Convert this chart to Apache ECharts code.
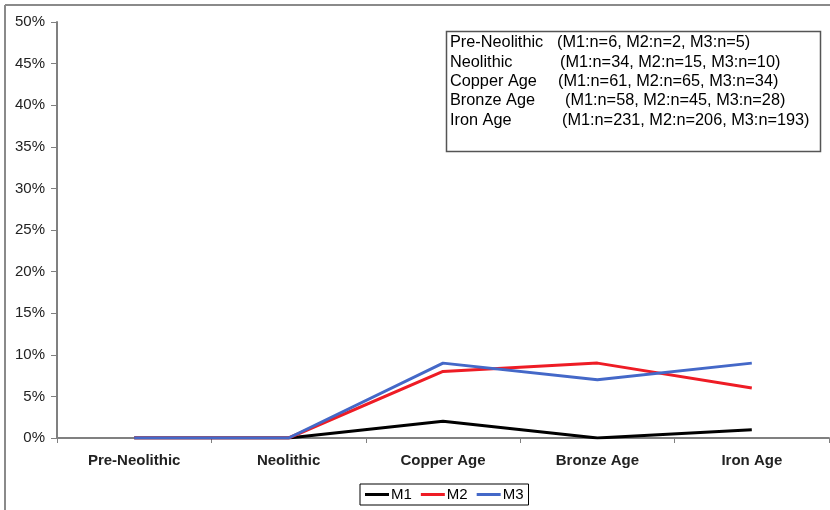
<!DOCTYPE html>
<html>
<head>
<meta charset="utf-8">
<script src="https://cdn.jsdelivr.net/npm/echarts@6/dist/echarts.min.js"></script>
<style>html,body{margin:0;padding:0;background:#fff}#c{width:830px;height:510px}</style>
</head>
<body>
<div id="c"></div>
<script>
var categories = ['Pre-Neolithic', 'Neolithic', 'Copper Age', 'Bronze Age', 'Iron Age'];
var m1 = [0, 0, 2, 0, 1];
var m2 = [0, 0, 8, 9, 6];
var m3 = [0, 0, 9, 7, 9];
var nM1 = [6, 34, 61, 58, 231];
var nM2 = [2, 15, 65, 45, 206];
var nM3 = [5, 10, 34, 28, 193];

var font = 'Liberation Sans, Arial, sans-serif';
var chart = echarts.init(document.getElementById('c'));

var noteX2 = [557, 560, 558, 565, 562];
var graphics = [
  {type:'line', shape:{x1:5,y1:5,x2:830,y2:5}, style:{stroke:'#8a8a8a', lineWidth:2}},
  {type:'line', shape:{x1:5,y1:5,x2:5,y2:510}, style:{stroke:'#8a8a8a', lineWidth:2}},
  {type:'rect', shape:{x:446.5,y:31.5,width:374,height:120}, style:{fill:'#fff', stroke:'#555', lineWidth:1.5}}
];
categories.forEach(function(c, i){
  graphics.push({type:'text', left:450, top:35 + i*19.3, style:{text:c, font:'16.3px ' + font, fill:'#000'}});
  graphics.push({type:'text', left:noteX2[i], top:35 + i*19.3, style:{text:'(M1:n=' + nM1[i] + ', M2:n=' + nM2[i] + ', M3:n=' + nM3[i] + ')', font:'16.3px ' + font, fill:'#000'}});
});

chart.setOption({
  animation:false,
  grid:{left:57, right:1, top:22, bottom:72, containLabel:false},
  legend:{
    data:['M1','M2','M3'], left:360, top:484, icon:'rect', itemWidth:24, itemHeight:3, itemGap:9,
    borderColor:'#000', borderWidth:1, padding:[3,5,3,5], borderRadius:0,
    textStyle:{fontFamily:font, fontSize:15, color:'#000', padding:[0,0,0,-3]}
  },
  xAxis:{
    type:'category', data:categories, boundaryGap:true,
    axisLine:{lineStyle:{color:'#808080', width:2}},
    axisTick:{show:true, length:5, lineStyle:{color:'#808080', width:1}},
    axisLabel:{fontFamily:font, fontSize:15, fontWeight:'bold', color:'#222', margin:15}
  },
  yAxis:{
    type:'value', min:0, max:50, interval:5,
    axisLine:{show:true, lineStyle:{color:'#808080', width:2}},
    axisTick:{show:true, length:6, lineStyle:{color:'#808080'}},
    splitLine:{show:false},
    axisLabel:{fontFamily:font, fontSize:15, color:'#222', margin:12, formatter:'{value}%'}
  },
  series:[
    {name:'M1', type:'line', data:m1, symbol:'none', itemStyle:{color:'#000'}, lineStyle:{color:'#000', width:3}, z:2},
    {name:'M2', type:'line', data:m2, symbol:'none', itemStyle:{color:'#ee1c25'}, lineStyle:{color:'#ee1c25', width:3}, z:3},
    {name:'M3', type:'line', data:m3, symbol:'none', itemStyle:{color:'#4468c8'}, lineStyle:{color:'#4468c8', width:3}, z:4}
  ],
  graphic:graphics
});
</script>
</body>
</html>
